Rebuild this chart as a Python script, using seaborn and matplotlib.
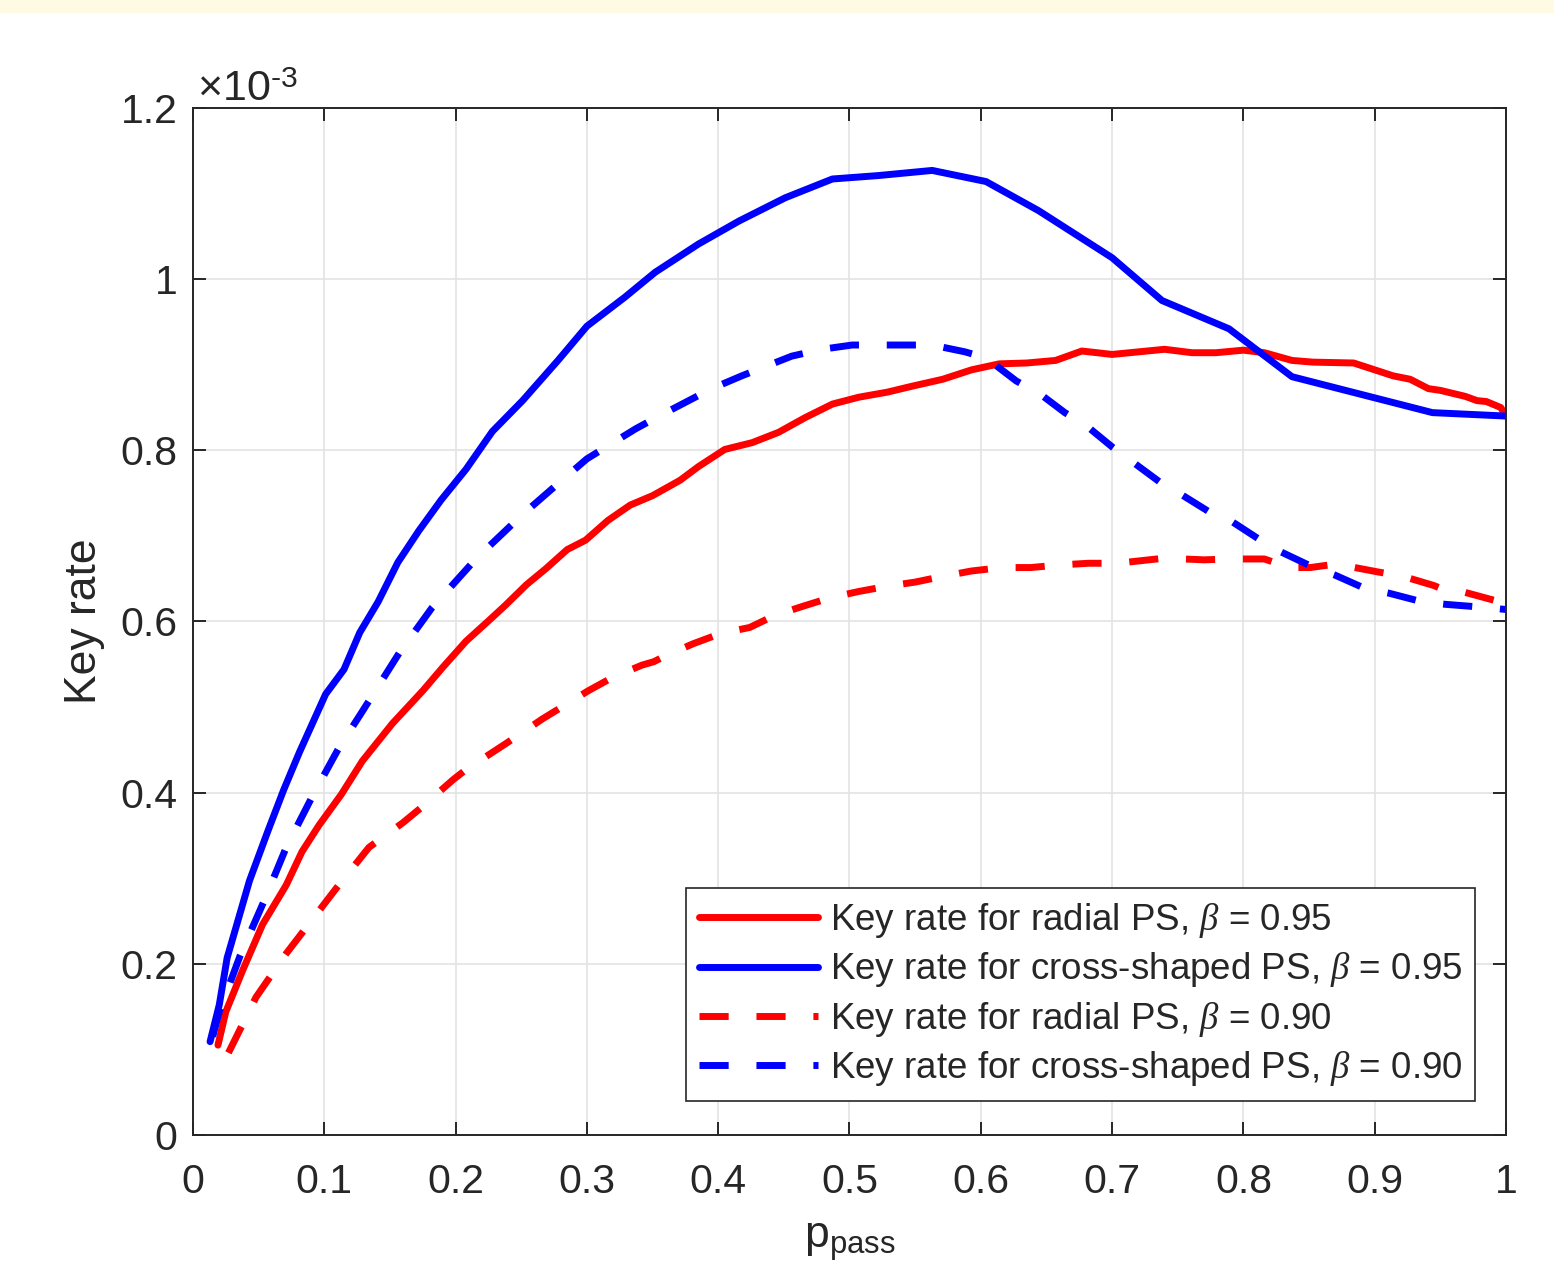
import numpy as np
import pandas as pd
import matplotlib
matplotlib.use("Agg")
import matplotlib.pyplot as plt
import seaborn as sns
from matplotlib.patches import Rectangle

# values, key rate in units of 1e-3
radial_95_x = [0.019, 0.025, 0.038, 0.053, 0.071, 0.083, 0.096, 0.113, 0.129, 0.152, 0.175, 0.190,
               0.208, 0.226, 0.238, 0.254, 0.269, 0.285, 0.299, 0.316, 0.333, 0.350, 0.371, 0.385,
               0.405, 0.426, 0.446, 0.466, 0.487, 0.507, 0.529, 0.548, 0.571, 0.593, 0.614, 0.635,
               0.657, 0.677, 0.700, 0.740, 0.761, 0.779, 0.800, 0.816, 0.837, 0.853, 0.884, 0.914,
               0.927, 0.941, 0.950, 0.969, 0.978, 0.985, 0.996, 1.0]
radial_95_y = [0.105, 0.144, 0.193, 0.246, 0.292, 0.331, 0.362, 0.398, 0.437, 0.481, 0.519, 0.546,
               0.577, 0.602, 0.619, 0.643, 0.662, 0.684, 0.695, 0.718, 0.736, 0.747, 0.765, 0.781,
               0.801, 0.809, 0.821, 0.838, 0.854, 0.862, 0.868, 0.875, 0.883, 0.894, 0.901, 0.902,
               0.905, 0.916, 0.912, 0.918, 0.914, 0.914, 0.917, 0.914, 0.905, 0.903, 0.902, 0.887,
               0.883, 0.872, 0.870, 0.863, 0.858, 0.857, 0.850, 0.840]

cross_95_x = [0.013, 0.020, 0.026, 0.043, 0.057, 0.069, 0.081, 0.091, 0.101, 0.115, 0.127, 0.141,
              0.156, 0.172, 0.189, 0.208, 0.228, 0.251, 0.278, 0.300, 0.329, 0.352, 0.385, 0.416,
              0.451, 0.487, 0.522, 0.563, 0.604, 0.644, 0.700, 0.738, 0.789, 0.837, 0.944, 1.0]
cross_95_y = [0.109, 0.152, 0.207, 0.297, 0.355, 0.403, 0.447, 0.481, 0.515, 0.544, 0.587, 0.623,
              0.669, 0.706, 0.742, 0.778, 0.822, 0.858, 0.905, 0.945, 0.979, 1.008, 1.041, 1.068,
              1.095, 1.117, 1.121, 1.127, 1.114, 1.080, 1.025, 0.975, 0.942, 0.886, 0.844, 0.840]

radial_90_x = [0.027, 0.048, 0.071, 0.099, 0.109, 0.134, 0.160, 0.175, 0.198, 0.208, 0.238, 0.266,
               0.301, 0.320, 0.342, 0.351, 0.360, 0.381, 0.402, 0.424, 0.443, 0.465, 0.486, 0.507,
               0.528, 0.550, 0.572, 0.593, 0.616, 0.638, 0.660, 0.682, 0.704, 0.740, 0.770, 0.790,
               0.816, 0.835, 0.851, 0.870, 0.878, 0.902, 0.921, 0.945, 0.953, 0.964, 0.988, 1.0]
radial_90_y = [0.096, 0.161, 0.212, 0.268, 0.288, 0.336, 0.365, 0.384, 0.415, 0.427, 0.457, 0.486,
               0.519, 0.535, 0.549, 0.553, 0.560, 0.574, 0.586, 0.593, 0.607, 0.618, 0.628, 0.635,
               0.641, 0.646, 0.653, 0.659, 0.663, 0.663, 0.666, 0.668, 0.668, 0.674, 0.672, 0.673,
               0.673, 0.663, 0.663, 0.667, 0.665, 0.658, 0.653, 0.642, 0.637, 0.636, 0.626, 0.621]

cross_90_x = [0.015, 0.020, 0.036, 0.054, 0.071, 0.091, 0.111, 0.129, 0.157, 0.182, 0.216, 0.251,
              0.278, 0.300, 0.337, 0.355, 0.385, 0.395, 0.418, 0.456, 0.479, 0.502, 0.563, 0.588,
              0.604, 0.627, 0.645, 0.664, 0.681, 0.700, 0.716, 0.738, 0.752, 0.773, 0.792, 0.813,
              0.829, 0.851, 0.870, 0.892, 0.911, 0.936, 0.954, 0.979, 1.0]
cross_90_y = [0.115, 0.144, 0.210, 0.273, 0.336, 0.396, 0.452, 0.495, 0.563, 0.616, 0.674, 0.725,
              0.761, 0.790, 0.825, 0.840, 0.864, 0.872, 0.887, 0.910, 0.918, 0.923, 0.923, 0.915,
              0.908, 0.881, 0.866, 0.844, 0.828, 0.804, 0.786, 0.761, 0.749, 0.729, 0.716, 0.695,
              0.681, 0.665, 0.654, 0.639, 0.633, 0.623, 0.620, 0.617, 0.614]

x_ticks = [0, 0.1, 0.2, 0.3, 0.4, 0.5, 0.6, 0.7, 0.8, 0.9, 1]
y_ticks = [0, 0.2, 0.4, 0.6, 0.8, 1, 1.2]

sns.set_style("ticks")
plt.rcParams['font.family'] = ['Liberation Sans', 'DejaVu Sans']
plt.rcParams['mathtext.fontset'] = 'custom'
plt.rcParams['mathtext.rm'] = 'Liberation Sans'
plt.rcParams['mathtext.it'] = 'Liberation Serif:italic'

dark = '#262626'
lw = 5.0
dash = (0, (4.2, 4.0))

fig = plt.figure(figsize=(15.54, 12.67), dpi=100)
fig.patches.append(Rectangle((0, 1 - 12 / 1267), 1, 12 / 1267, transform=fig.transFigure,
                             color='#fffbe3', zorder=0))
ax = fig.add_axes([0.1242, 0.1042, 0.8449, 0.8106])

series = [
    (radial_95_x, radial_95_y, 'red', '-', 'Key rate for radial PS, $\\beta$ = 0.95'),
    (cross_95_x, cross_95_y, 'blue', '-', 'Key rate for cross-shaped PS, $\\beta$ = 0.95'),
    (radial_90_x, radial_90_y, 'red', dash, 'Key rate for radial PS, $\\beta$ = 0.90'),
    (cross_90_x, cross_90_y, 'blue', dash, 'Key rate for cross-shaped PS, $\\beta$ = 0.90'),
]
for xs, ys, col, ls, lab in series:
    sns.lineplot(x=xs, y=ys, ax=ax, color=col, linestyle=ls, label=lab,
                 estimator=None, sort=False)
    line = ax.lines[-1]
    line.set_linewidth(lw)
    line.set_linestyle(ls)

ax.set_xlim(0, 1)
ax.set_ylim(0, 1.2)
ax.set_xticks(x_ticks)
ax.set_yticks(y_ticks)
ax.set_xticklabels([f'{v:g}' for v in x_ticks])
ax.set_yticklabels([f'{v:g}' for v in y_ticks])
ax.grid(True, color='#e3e3e3', lw=1.2)
ax.set_axisbelow(True)
for s in ax.spines.values():
    s.set_visible(True)
    s.set_color(dark)
    s.set_linewidth(1.4)
ax.tick_params(direction='in', length=9.5, width=1.4, top=True, right=True,
               labelsize=29.5, colors=dark)
ax.tick_params(axis='x', pad=20)
ax.tick_params(axis='y', pad=11)

ax.text(0.003, 0.998, '×10$^{\\text{-3}}$', transform=ax.transAxes,
        fontsize=31, color=dark, ha='left', va='bottom')

ax.set_xlabel('p$_{\\mathregular{pass}}$', fontsize=32, color=dark, labelpad=15)
ax.set_ylabel('Key rate', fontsize=32, color=dark, labelpad=11)

leg = ax.legend(loc='lower right', bbox_to_anchor=(0.9764, 0.0331), fontsize=26.5,
                handlelength=3.25, frameon=True, fancybox=False, edgecolor=dark,
                framealpha=1, borderaxespad=0, labelspacing=0.28, handletextpad=0.3,
                borderpad=0.35)
leg.get_frame().set_linewidth(1.2)

fig.savefig('out.png', dpi=100)
